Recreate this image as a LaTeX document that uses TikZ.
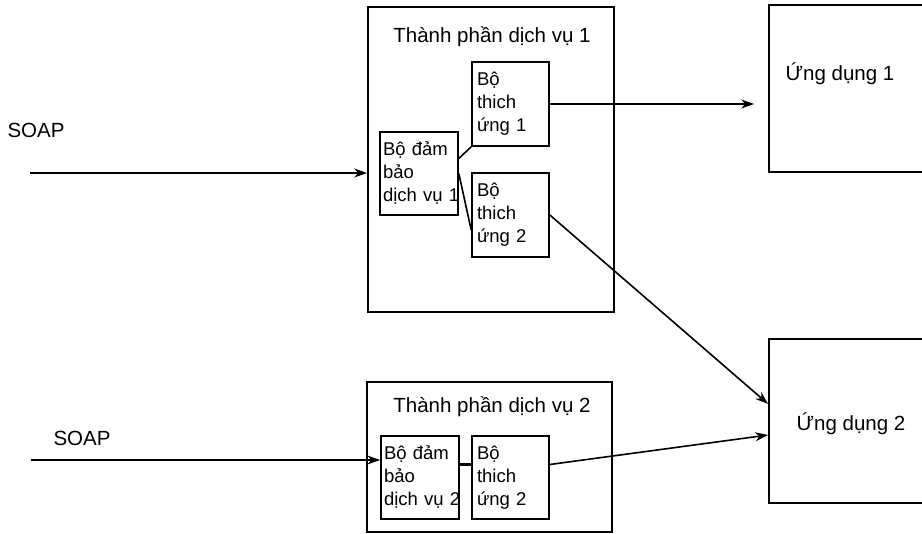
\documentclass[tikz,border=0pt]{standalone}
\usepackage{fontspec}
\setmainfont{Liberation Sans}
\usetikzlibrary{arrows.meta,positioning,calc}
\tikzset{
  >=Stealth,
  comp/.style={rectangle,draw,line width=1.7pt,inner sep=0pt},
  sub/.style={rectangle,draw,line width=1.6pt,minimum width=77pt,minimum height=84pt,
    inner xsep=5pt,text width=67pt,align=left,font=\fontsize{18.5}{23}\selectfont},
  guard/.style={sub,inner xsep=3pt,text width=72pt,minimum height=83pt},
  tr/.style={-{Stealth[length=13pt,width=9pt]}, line width=1.6pt},
  ln/.style={line width=1.6pt},
  lbl/.style={font=\fontsize{20.5}{24}\selectfont}
}
\begin{document}
\begin{tikzpicture}[x=1pt,y=-1pt]
    \useasboundingbox (0,0) rectangle (922,534);
    \clip (0,0) rectangle (922,534);

    % --- Service component 1 ---
    \node[comp, minimum width=246pt, minimum height=305pt] (comp1) at (491,159.5) {};
    \node[lbl] (title1) at (492,37) {Thành phần dịch vụ 1};
    \node[guard] (guard1) at (419,173.5) {Bộ đảm\\bảo\\\mbox{dịch vụ 1}};
    \node[sub] (adapt1) at (510.5,104) {Bộ\\thich\\ứng 1};
    \node[sub] (adapt2) at (510.5,215) {Bộ\\thich\\ứng 2};
    \draw[ln] ([yshift=15pt]guard1.east) -- (adapt1.south west);
    \draw[ln] (guard1.east) -- ([yshift=-15pt]adapt2.west);

    % --- Service component 2 ---
    \node[comp, minimum width=245pt, minimum height=150pt] (comp2) at (489.5,457) {};
    \node[lbl] (title2) at (492,407) {Thành phần dịch vụ 2};
    \node[guard] (guard2) at (420,477.5) {Bộ đảm\\bảo\\\mbox{dịch vụ 2}};
    \node[sub, minimum height=83pt] (adapt3) at (510.5,477.5) {Bộ\\thich\\ứng 2};
    \draw[ln, line width=2.4pt] ([yshift=13pt]guard2.east) -- ([yshift=13pt]adapt3.west);

    % --- Applications (cut off on the right) ---
    \node[comp, minimum width=180pt, minimum height=167pt] (app1) at (859,88.5) {};
    \node[lbl] (app1lbl) at (840,74) {Ứng dụng 1};
    \node[comp, minimum width=180pt, minimum height=164pt] (app2) at (859,421) {};
    \node[lbl] (app2lbl) at (851,424) {Ứng dụng 2};

    % --- SOAP inputs ---
    \node[lbl] (soap1) at (36,130) {SOAP};
    \coordinate (in1) at (30,173);
    \draw[tr] (in1) -- (in1 -| comp1.west);
    \node[lbl] (soap2) at (82,438) {SOAP};
    \coordinate (in2) at (31,460);
    \draw[tr] (in2) -- (in2 -| guard2.west);

    % --- Outputs ---
    \draw[tr, shorten >=14pt] (adapt1.east) -- (adapt1.east -| app1.west);
    \draw[tr] (adapt2.east) -- ([yshift=17pt]app2.west);
    \draw[tr] ([yshift=13pt]adapt3.east) -- ([yshift=-14pt]app2.west);
\end{tikzpicture}
\end{document}
